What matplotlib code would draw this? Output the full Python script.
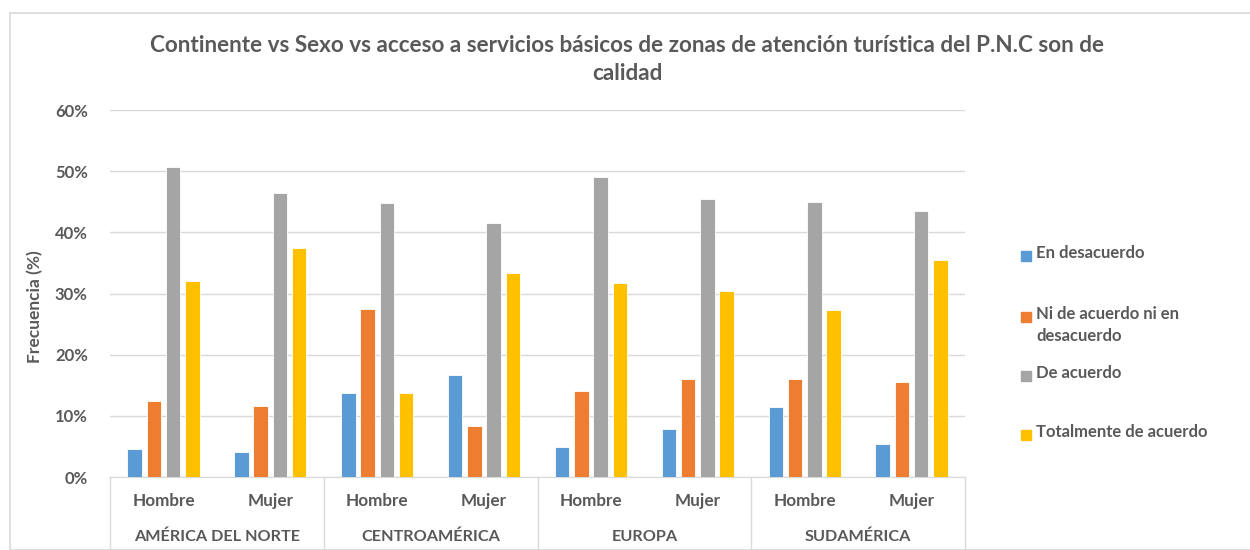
import numpy as np
import matplotlib
matplotlib.use('Agg')
import matplotlib.pyplot as plt
from matplotlib.patches import Rectangle
from matplotlib.ticker import PercentFormatter

plt.rcParams['font.family'] = ['Lato', 'DejaVu Sans']

continentes = ['AMÉRICA DEL NORTE', 'CENTROAMÉRICA', 'EUROPA', 'SUDAMÉRICA']
sexos = ['Hombre', 'Mujer']
series = ['En desacuerdo', 'Ni de acuerdo ni en\ndesacuerdo', 'De acuerdo', 'Totalmente de acuerdo']
colores = ['#5B9BD5', '#ED7D31', '#A5A5A5', '#FFC000']

# one value per (continent, sex) slot, in order NA-H, NA-M, CA-H, CA-M, EU-H, EU-M, SA-H, SA-M
en_desacuerdo = [0.046, 0.041, 0.137, 0.166, 0.049, 0.078, 0.114, 0.054]
ni_ni = [0.125, 0.116, 0.275, 0.083, 0.141, 0.160, 0.160, 0.155]
de_acuerdo = [0.506, 0.464, 0.448, 0.415, 0.490, 0.454, 0.449, 0.435]
totalmente = [0.320, 0.375, 0.137, 0.333, 0.317, 0.304, 0.273, 0.355]
valores = [en_desacuerdo, ni_ni, de_acuerdo, totalmente]

gris = '#595959'
linea = '#D9D9D9'
W, H = 1250, 550

fig = plt.figure(figsize=(12.5, 5.5), dpi=100)
fig.add_artist(Rectangle((10 / W, 0), 1.2, 1 - 13 / H, transform=fig.transFigure,
                         fill=False, edgecolor=linea, lw=1.2))

ax = fig.add_axes([110 / W, (H - 477) / H, 855 / W, 367 / H])
x = np.arange(len(continentes) * len(sexos))
paso, ancho = 0.18, 0.136
for i, (vals, c) in enumerate(zip(valores, colores)):
    ax.bar(x + (i - 1.5) * paso, vals, width=ancho, color=c, edgecolor='white', lw=0.6, zorder=3)

ax.set_xlim(-0.5, len(x) - 0.5)
ax.set_ylim(0, 0.6)
ax.set_yticks(np.arange(0, 0.61, 0.1))
ax.yaxis.set_major_formatter(PercentFormatter(1.0, decimals=0))
ax.grid(axis='y', color=linea, lw=1, zorder=0)
for s in ['top', 'right', 'left']:
    ax.spines[s].set_visible(False)
ax.spines['bottom'].set_color(linea)
ax.tick_params(axis='y', length=0, pad=16, labelsize=12, labelcolor=gris)
for t in ax.get_yticklabels():
    t.set_fontweight('bold')
ax.set_xticks([])

# two-level category axis
trans = ax.get_xaxis_transform()
bajo = -73 / 367
for b in np.arange(-0.5, len(x), 2):
    ax.plot([b, b], [0, bajo], color=linea, lw=1, transform=trans, clip_on=False)
for k in x:
    ax.text(k, -24 / 367, sexos[k % 2], transform=trans, ha='center', va='center',
            fontsize=12.3, fontweight='bold', color=gris)
for j, cont in enumerate(continentes):
    ax.text(2 * j + 0.5, -60 / 367, cont, transform=trans, ha='center', va='center',
            fontsize=11.7, fontweight='bold', color=gris)

fig.text(35 / W, 1 - 307 / H, 'Frecuencia (%)', rotation=90, ha='center', va='center',
         fontsize=12.5, fontweight='bold', color=gris)
fig.text(627 / W, 1 - 45 / H, 'Continente vs Sexo vs acceso a servicios básicos de zonas de atención turística del P.N.C son de',
         ha='center', va='center', fontsize=16.2, fontweight='bold', color=gris)
fig.text(627 / W, 1 - 73 / H, 'calidad', ha='center', va='center', fontsize=16.2,
         fontweight='bold', color=gris)

# legend drawn by hand to keep Excel-style spacing
ley_y = [256, 317, 376, 435]
for lab, c, yy in zip(series, colores, ley_y):
    fig.add_artist(Rectangle((1021 / W, 1 - (yy + 5) / H), 10 / W, 10 / H,
                             transform=fig.transFigure, color=c))
    fig.text(1036 / W, 1 - (yy - 11) / H, lab, ha='left', va='top', fontsize=12,
             fontweight='bold', color=gris, linespacing=1.45)

fig.savefig('out.png', dpi=100)
